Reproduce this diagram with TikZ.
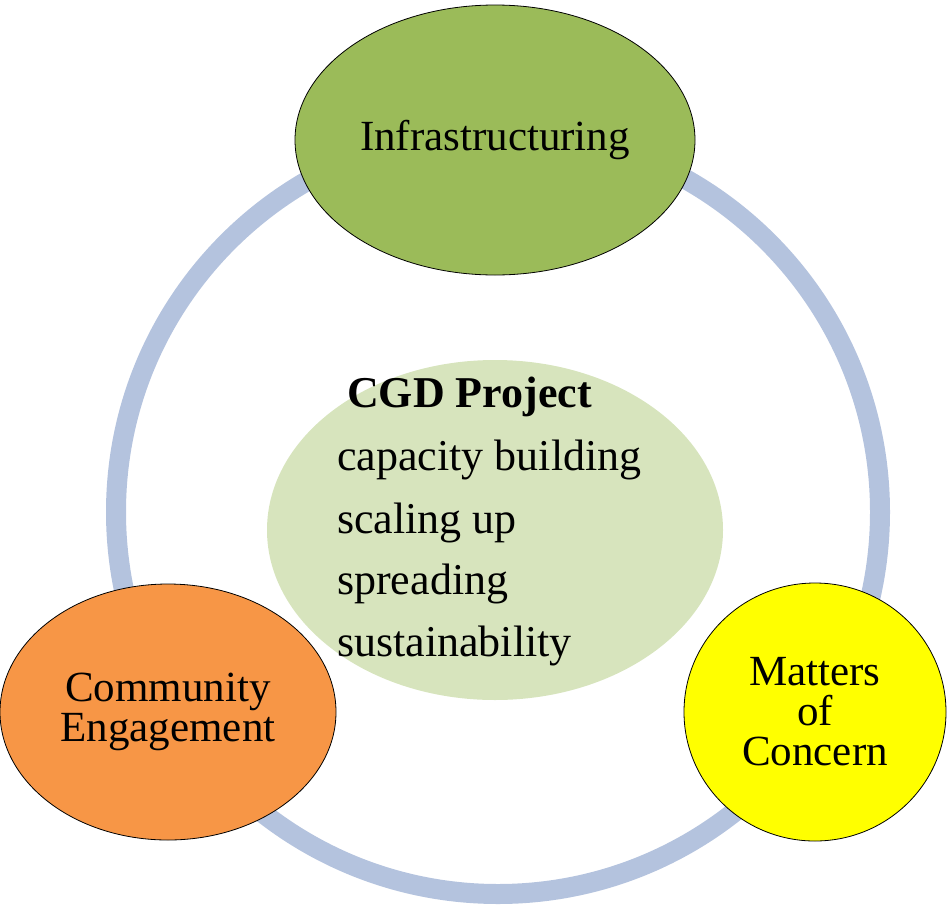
\documentclass[tikz,border=0pt]{standalone}
\usepackage{fontspec}
\setmainfont{Liberation Serif}
\usetikzlibrary{shapes.geometric}
\definecolor{ringc}{RGB}{180,195,222}
\definecolor{greenc}{RGB}{155,187,89}
\definecolor{palec}{RGB}{215,228,189}
\definecolor{orangec}{RGB}{247,150,70}
\definecolor{yellowc}{RGB}{255,255,0}
\tikzset{blob/.style={ellipse, draw=black, line width=0.8pt, inner sep=0pt, align=center, font=\fontsize{43}{40}\selectfont},
lbl/.style={font=\fontsize{44}{50}\selectfont, anchor=base west, inner sep=0pt}}
\begin{document}
\begin{tikzpicture}[x=1pt,y=-1pt]
\useasboundingbox (0,0) rectangle (947,913);
\node[circle, draw=ringc, line width=20pt, minimum size=764pt, inner sep=0pt] (ring) at (498,512) {};
\node[blob, fill=greenc, minimum width=400pt, minimum height=270pt] (infra) at (495,140) {Infrastructuring};
\node[ellipse, fill=palec, minimum width=456pt, minimum height=340pt, inner sep=0pt] (core) at (495,530) {};
\node[lbl] (t1) at (347,407) {\textbf{CGD Project}};
\node[lbl] (t2) at (337,470) {capacity building};
\node[lbl] (t3) at (337,533) {scaling up};
\node[lbl] (t4) at (337,594) {spreading};
\node[lbl] (t5) at (337,656) {sustainability};
\node[blob, fill=orangec, minimum width=336pt, minimum height=256pt] (comm) at (168,712) {Community\\Engagement};
\node[blob, fill=yellowc, minimum width=262pt, minimum height=258pt] (moc) at (815,712) {Matters\\of\\Concern};
\end{tikzpicture}
\end{document}
